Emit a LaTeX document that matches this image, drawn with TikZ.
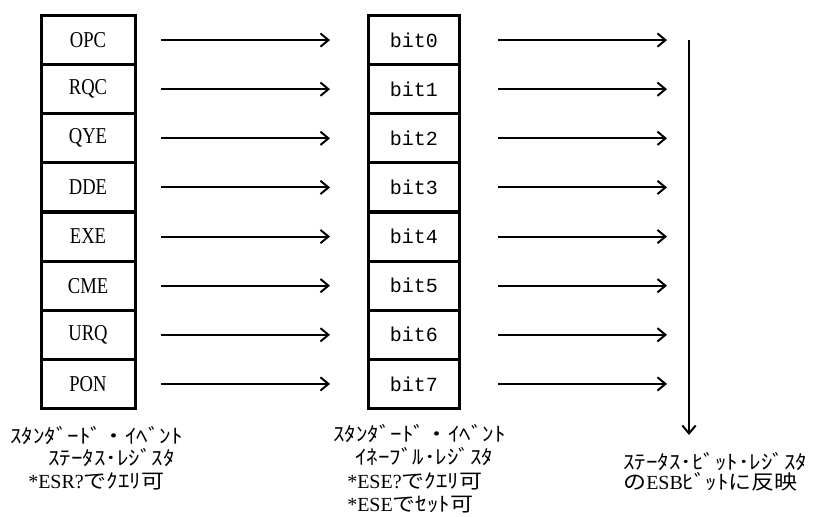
\documentclass[tikz,border=0pt]{standalone}
\usepackage{fontspec}
\setmainfont{Liberation Serif}
\newfontfamily\jpfont[FakeStretch=1.15]{Noto Sans CJK JP}
\newfontfamily\cellfont[FakeStretch=0.82]{Liberation Serif}
\newfontfamily\bitfont{Liberation Mono}
\usetikzlibrary{arrows.meta}
\newcommand{\jp}[1]{{\jpfont #1}}
\tikzset{
  cell/.style={draw, line width=2.25pt, minimum height=36.84pt, inner sep=0pt, font=\cellfont\fontsize{17}{19}\selectfont},
  esrcell/.style={cell, minimum width=70.5pt},
  esecell/.style={cell, minimum width=68.25pt, font=\bitfont\fontsize{15}{17}\selectfont},
  sig/.style={line width=1.5pt, -{Straight Barb[length=6pt,width=10pt,line width=1.5pt]}},
  note/.style={anchor=west, inner sep=0pt, font=\fontsize{15}{17}\selectfont}
}
\begin{document}
\begin{tikzpicture}[x=0.75pt,y=-0.75pt]
\useasboundingbox (0,0) rectangle (818,517);
\foreach \n [count=\i from 0] in {OPC,RQC,QYE,DDE,EXE,CME,URQ,PON}{
  \node[esrcell] (esr\i) at (88, 40.06+49.125*\i) {\n};
  \node[esecell] (ese\i) at (414, 40.06+49.125*\i) {bit\i\hspace{12pt}};
  \coordinate (esb\i) at (689, 40.06+49.125*\i);
  \draw[sig, shorten <=18pt, shorten >=27.75pt] (esr\i) -- (ese\i);
  \draw[sig, shorten <=27.75pt, shorten >=16.5pt] (ese\i) -- (esb\i);
}
\coordinate (esbend) at (689,435);
\draw[sig] (esb0) -- (esbend);

\node[note] (esrl1) at (10,436) {\jp{ｽﾀﾝﾀﾞｰﾄﾞ・ｲﾍﾞﾝﾄ}};
\node[note] (esrl2) at (48,458) {\jp{ｽﾃｰﾀｽ･ﾚｼﾞｽﾀ}};
\node[note] (esrl3) at (28,481) {*ESR?\jp{でｸｴﾘ可}};

\node[note] (esel1) at (333,434) {\jp{ｽﾀﾝﾀﾞｰﾄﾞ・ｲﾍﾞﾝﾄ}};
\node[note] (esel2) at (355,457) {\jp{ｲﾈｰﾌﾞﾙ･ﾚｼﾞｽﾀ}};
\node[note] (esel3) at (347,481) {*ESE?\jp{でｸｴﾘ可}};
\node[note] (esel4) at (347,505) {*ESE\jp{でｾｯﾄ可}};

\node[note] (esbl1) at (623,462) {\jp{ｽﾃｰﾀｽ･ﾋﾞｯﾄ･ﾚｼﾞｽﾀ}};
\node[note] (esbl2) at (623,482) {\jp{の}ESB\jp{ﾋﾞｯﾄに反映}};
\end{tikzpicture}
\end{document}
